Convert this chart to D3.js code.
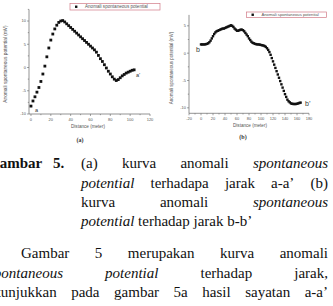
<!DOCTYPE html>
<html>
<head>
<meta charset="utf-8">
<script src="https://cdn.jsdelivr.net/npm/d3@7"></script>
<style>
  body { margin: 0; background: #fff; }
  svg { display: block; }
</style>
</head>
<body>
<div id="chart-area"></div>
<script>
/*
*   Kurva anomali spontaneous potential (Gambar 5)
*/

// ---- data ----
// (a) sayatan a-a'
var distA = [0, 2, 4, 6, 8, 10, 12, 14, 16, 18, 20, 22, 24, 26, 28, 30, 32,
    34, 36, 38, 40, 42, 44, 46, 48, 50, 52, 54, 56, 58, 60, 62, 64, 66, 68, 70,
    72, 74, 76, 78, 80, 82, 84, 86, 88, 90, 92, 94, 96, 98, 100, 102, 104];
var spA = [-8.3, -7.2, -6.3, -5.3, -4.3, -3.0, -1.4, 0.3, 2.3, 4.2, 5.9, 7.2, 8.3, 9.1, 9.7, 10.0, 10.1,
    9.8, 9.4, 9.0, 8.6, 8.2, 7.8, 7.4, 7.0, 6.6, 6.2, 5.8, 5.4, 5.0, 4.6, 4.2, 3.8, 3.3, 2.6, 1.9,
    1.3, 0.6, -0.1, -0.8, -1.4, -2.0, -2.5, -2.8, -2.6, -2.2, -1.8, -1.5, -1.2, -1.0, -0.8, -0.6, -0.5];

// (b) sayatan b-b'
var distB = [0, 2, 4, 6, 8, 10, 12, 14, 16, 18, 20, 22, 24, 26, 28, 30, 32, 34, 36, 38,
    40, 42, 44, 46, 48, 50, 52, 54, 56, 58, 60, 62, 64, 66, 68, 70, 72, 74, 76, 78,
    80, 82, 84, 86, 88, 90, 92, 94, 96, 98, 100, 102, 104, 106, 108, 110, 112, 114, 116, 118,
    120, 122, 124, 126, 128, 130, 132, 134, 136, 138, 140, 142, 144, 146, 148, 150, 152, 154, 156, 158,
    160, 162, 164, 166];
var spB = [1.6, 1.6, 1.6, 1.6, 1.65, 1.7, 1.8, 2.0, 2.3, 2.7, 3.1, 3.5, 3.8, 4.0, 4.1, 4.2, 4.3, 4.4, 4.5, 4.5,
    4.6, 4.7, 4.8, 4.9, 5.0, 5.1, 5.0, 4.8, 4.5, 4.3, 4.1, 4.1, 4.2, 4.3, 4.3, 4.2, 4.0, 3.7, 3.4, 3.1,
    2.7, 2.4, 2.1, 1.9, 1.8, 1.7, 1.65, 1.6, 1.6, 1.55, 1.5, 1.45, 1.4, 1.3, 1.15, 0.9, 0.6, 0.2, -0.3, -0.9,
    -1.5, -2.1, -2.7, -3.3, -3.9, -4.5, -5.1, -5.7, -6.3, -6.9, -7.5, -8.0, -8.5, -8.8, -9.0, -9.2, -9.25, -9.3, -9.3, -9.3,
    -9.25, -9.2, -9.1, -9.05];

// tick labels
var xTicksA = [0, 20, 40, 60, 80, 100, 120];
var yTicksA = [-10, -5, 0, 5, 10];
var xTicksB = [-20, 0, 20, 40, 60, 80, 100, 120, 140, 160, 180];
var yTicksB = [-10, -5, 0, 5];

var legendText = "Anomali spontaneous potential";
var yTitle = "Anomali spontaneous potential (mV)";
var xTitle = "Distance (meter)";

// caption and paragraph, word by word: [word, style]
var captionHead = [["Gambar", "b"], ["5.", "b"]];
var captionLines = [
    [["(a)", "n"], ["kurva", "n"], ["anomali", "n"], ["spontaneous", "i"]],
    [["potential", "i"], ["terhadapa", "n"], ["jarak", "n"], ["a-a\u2019", "n"], ["(b)", "n"]],
    [["kurva", "n"], ["anomali", "n"], ["spontaneous", "i"]],
    [["potential", "i"], ["terhadap", "n"], ["jarak", "n"], ["b-b\u2019", "n"]]
];
var paraLines = [
    [["Gambar", "n"], ["5", "n"], ["merupakan", "n"], ["kurva", "n"], ["anomali", "n"]],
    [["spontaneous", "i"], ["potential", "i"], ["terhadap", "n"], ["jarak,", "n"]],
    [["ditunjukkan", "n"], ["pada", "n"], ["gambar", "n"], ["5a", "n"], ["hasil", "n"], ["sayatan", "n"], ["a-a\u2019", "n"]]
];

var width = 333, height = 306;

var svg = d3.select("#chart-area").append("svg")
    .attr("width", width)
    .attr("height", height);

var chartFont = "Liberation Sans, Arial, sans-serif";
var axisColor = "#666";

function drawPanel(p) {
    var g = svg.append("g");

    var x = d3.scaleLinear().domain(p.xDomain).range(p.xRange);
    var y = d3.scaleLinear().domain(p.yDomain).range(p.yRange);

    // axis lines
    g.append("line")
        .attr("x1", p.xRange[0]).attr("x2", p.xRange[0])
        .attr("y1", p.yRange[0]).attr("y2", p.yRange[1])
        .attr("stroke", axisColor).attr("stroke-width", 0.7);
    g.append("line")
        .attr("x1", p.xRange[0]).attr("x2", p.xRange[1])
        .attr("y1", p.yRange[0]).attr("y2", p.yRange[0])
        .attr("stroke", axisColor).attr("stroke-width", 0.7);

    // minor ticks
    var xMinor = d3.range(p.xTicks[0], p.xDomain[1] + 0.1, p.xMinorStep);
    g.selectAll(".xminor").data(xMinor).enter().append("line")
        .attr("x1", d => x(d)).attr("x2", d => x(d))
        .attr("y1", p.yRange[0]).attr("y2", d => p.yRange[0] + (p.xTicks.indexOf(d) >= 0 ? 2 : 1.2))
        .attr("stroke", axisColor).attr("stroke-width", 0.6);
    var yMinor = d3.range(p.yTicks[0], p.yDomain[1] + 0.1, p.yMinorStep);
    g.selectAll(".yminor").data(yMinor).enter().append("line")
        .attr("y1", d => y(d)).attr("y2", d => y(d))
        .attr("x1", p.xRange[0]).attr("x2", d => p.xRange[0] - (p.yTicks.indexOf(d) >= 0 ? 2 : 1.2))
        .attr("stroke", axisColor).attr("stroke-width", 0.6);

    // tick labels
    g.selectAll(".xlab").data(p.xTicks).enter().append("text")
        .attr("x", d => x(d)).attr("y", p.yRange[0] + 7)
        .attr("text-anchor", "middle")
        .attr("font-family", chartFont).attr("font-size", "4px").attr("fill", "#555")
        .text(d => d);
    g.selectAll(".ylab").data(p.yTicks).enter().append("text")
        .attr("x", p.xRange[0] - 3).attr("y", d => y(d) + 1.4)
        .attr("text-anchor", "end")
        .attr("font-family", chartFont).attr("font-size", "4px").attr("fill", "#555")
        .text(d => d);

    // titles
    g.append("text")
        .attr("x", p.xTitlePos[0]).attr("y", p.xTitlePos[1])
        .attr("text-anchor", "middle")
        .attr("font-family", chartFont).attr("font-size", "4.6px").attr("fill", "#555")
        .text(xTitle);
    g.append("text")
        .attr("transform", "translate(" + p.yTitlePos[0] + "," + p.yTitlePos[1] + ") rotate(-90)")
        .attr("text-anchor", "middle")
        .attr("font-family", chartFont).attr("font-size", p.yTitleSize + "px").attr("fill", "#555")
        .text(yTitle);

    // points
    g.selectAll(".pt").data(p.dist).enter().append("rect")
        .attr("x", (d, i) => x(d) - p.ms / 2)
        .attr("y", (d, i) => y(p.values[i]) - p.ms / 2)
        .attr("width", p.ms).attr("height", p.ms)
        .attr("fill", "#111");

    // end labels
    p.endLabels.forEach(function(l) {
        g.append("text")
            .attr("x", l.x).attr("y", l.y)
            .attr("font-family", chartFont).attr("font-size", p.endSize + "px").attr("fill", "#333")
            .text(l.t);
    });

    // legend
    var lg = p.legend;
    g.append("rect")
        .attr("x", lg.x).attr("y", lg.y).attr("width", lg.w).attr("height", lg.h)
        .attr("fill", "#fff").attr("stroke", "#d27a86").attr("stroke-width", 0.7);
    g.append("rect")
        .attr("x", lg.x + 5).attr("y", lg.y + lg.h / 2 - 1.2)
        .attr("width", 2.4).attr("height", 2.4).attr("fill", "#111");
    g.append("text")
        .attr("x", lg.x + 15).attr("y", lg.y + lg.h / 2 + 1.6)
        .attr("font-family", chartFont).attr("font-size", lg.fs + "px").attr("fill", "#555")
        .text(legendText);

    // panel label
    g.append("text")
        .attr("x", p.panelPos[0]).attr("y", p.panelPos[1])
        .attr("text-anchor", "middle")
        .attr("font-family", "Liberation Serif, serif").attr("font-weight", "bold")
        .attr("font-size", "6px").attr("fill", "#333")
        .text(p.panel);
}

drawPanel({
    dist: distA, values: spA,
    xDomain: [-2, 120], xRange: [29, 150],
    yDomain: [-10, 12.5], yRange: [114, 9.4],
    xTicks: xTicksA, yTicks: yTicksA, xMinorStep: 10, yMinorStep: 2.5,
    ms: 2.8,
    xTitlePos: [88, 128], yTitlePos: [7, 64], yTitleSize: 4.8,
    endLabels: [{ t: "a", x: 35, y: 112 }, { t: "a\u2019", x: 136, y: 77 }],
    endSize: 5.5,
    legend: { x: 70, y: 3.5, w: 90, h: 6.5, fs: 4.6 },
    panel: "(a)", panelPos: [80, 142]
});

drawPanel({
    dist: distB, values: spB,
    xDomain: [-20, 180], xRange: [189, 309],
    yDomain: [-11, 7], yRange: [113.3, 14.9],
    xTicks: xTicksB, yTicks: yTicksB, xMinorStep: 10, yMinorStep: 2.5,
    ms: 2.4,
    xTitlePos: [250, 127], yTitlePos: [173, 68], yTitleSize: 4.5,
    endLabels: [{ t: "b", x: 196, y: 52 }, { t: "b\u2019", x: 305, y: 106 }],
    endSize: 7,
    legend: { x: 246.5, y: 12, w: 80, h: 5.5, fs: 4.2 },
    panel: "(b)", panelPos: [243, 139]
});

// ---- caption and paragraph text ----
var textFont = "Liberation Serif, 'Times New Roman', serif";

function wordNodes(words, y) {
    return words.map(function(w) {
        return svg.append("text")
            .attr("y", y)
            .attr("font-family", textFont)
            .attr("font-size", "15px")
            .attr("font-style", w[1] == "i" ? "italic" : "normal")
            .attr("font-weight", w[1] == "b" ? "bold" : "normal")
            .attr("fill", "#111")
            .text(w[0]);
    });
}

function setLine(words, x0, x1, y, justify) {
    var nodes = wordNodes(words, y);
    var widths = nodes.map(n => n.node().getComputedTextLength());
    var gap = justify ? (x1 - x0 - d3.sum(widths)) / (words.length - 1) : 3.75;
    var xx = x0;
    nodes.forEach(function(n, i) {
        n.attr("x", xx);
        xx += widths[i] + gap;
    });
}

// "Gambar 5." hanging head
var head = wordNodes(captionHead, 168);
head[0].attr("x", -12);
head[1].attr("x", 53);

var capY = [168, 187.5, 207, 226];
captionLines.forEach(function(l, i) {
    setLine(l, 81, 328, capY[i], i < 3);
});

var paraY = [258, 277.5, 297];
var paraX = [21, -12, -15];
paraLines.forEach(function(l, i) {
    setLine(l, paraX[i], 328, paraY[i], true);
});
</script>
</body>
</html>
